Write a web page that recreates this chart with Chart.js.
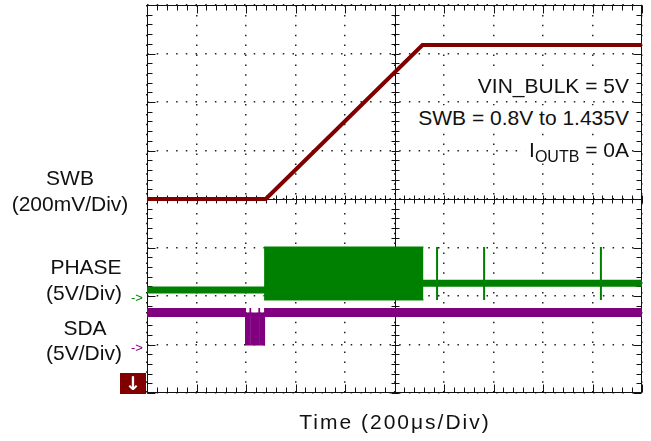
<!DOCTYPE html>
<html><head><meta charset="utf-8">
<script src="https://cdn.jsdelivr.net/npm/chart.js@4/dist/chart.umd.min.js"></script>
<style>
html,body{margin:0;padding:0;background:#fff;}
#wrap{position:relative;width:651px;height:441px;overflow:hidden;font-family:"Liberation Sans",Arial,sans-serif;color:#111;}
canvas{position:absolute;left:0;top:0;}
.lbl{position:absolute;font-size:21px;line-height:21px;white-space:nowrap;transform:translate(-50%,-50%);}
.rt{position:absolute;font-size:21px;line-height:23px;white-space:nowrap;transform:translate(-100%,-50%);background:#fff;padding-left:4px;}
.mk{position:absolute;font-size:13px;line-height:13px;white-space:nowrap;transform:translate(-50%,-50%);}
sub{font-size:16px;vertical-align:-5px;line-height:0;}
#gnd{position:absolute;left:120px;top:373px;width:26px;height:21px;background:#800000;color:#fff;font-family:"DejaVu Sans",sans-serif;font-weight:bold;font-size:19px;line-height:21px;text-align:center;}
</style></head>
<body>
<div id="wrap">
<canvas id="c" width="651" height="441"></canvas>
<div class="lbl" style="left:70px;top:177px;">SWB</div>
<div class="lbl" style="left:70px;top:203px;">(200mV/Div)</div>
<div class="lbl" style="left:86px;top:266px;">PHASE</div>
<div class="lbl" style="left:84px;top:292px;">(5V/Div)</div>
<div class="mk" style="left:137px;top:297px;color:#008000;">-&gt;</div>
<div class="lbl" style="left:85px;top:327px;">SDA</div>
<div class="lbl" style="left:84px;top:352px;">(5V/Div)</div>
<div class="mk" style="left:137px;top:347px;color:#800080;">-&gt;</div>
<div id="gnd">↓</div>
<div class="rt" style="left:629px;top:85px;">VIN_BULK = 5V</div>
<div class="rt" style="left:629px;top:117px;">SWB = 0.8V to 1.435V</div>
<div class="rt" style="left:629px;top:149px;">I<sub>OUTB</sub> = 0A</div>
<div class="lbl" style="left:395px;top:421px;letter-spacing:2px;">Time (200μs/Div)</div>
</div>
<script>
// ---- Data (time in µs, values in V) ----
const swbTime  = [0, 480, 1113, 2000];
const swbVolts = [0.8, 0.8, 1.435, 1.435];

const phaseTime  = [0, 473, 1117, 1172, 1172, 1172, 1172, 1362, 1362, 1362, 1362, 1834, 1834, 1834, 1834, 2000];
const phaseVolts = [0.62, 0.62, 1.31, 1.31, 5.05, -0.41, 1.31, 1.31, 5.05, -0.41, 1.31, 1.31, 5.05, -0.41, 1.31, 1.31];

const burstTime = [473, 1117];
const burstHigh = [5.05, 5.05];
const burstLow  = [-0.41, -0.41];

const sdaTime  = [0, 400, 400, 414, 414, 421, 421, 450, 450, 457, 457, 473, 473, 2000];
const sdaVolts = [3.3, 3.3, 0, 0, 3.3, 3.3, 0, 0, 3.3, 3.3, 0, 0, 3.3, 3.3];

// ---- Axis settings ----
const timePerDiv = 200, xDivs = 10, yDivs = 8, minorPerDiv = 5;
const swbRange = [0, 1.6];     // 200 mV/div
const phaseRange = [-10, 30];  // 5 V/div
const sdaRange = [-5, 35];     // 5 V/div

const pts = (xs, ys) => xs.map((x, i) => ({x, y: ys[i]}));

const framePlugin = {
  id: 'frame',
  beforeDatasetsDraw(chart) {
    const {ctx, chartArea: a, scales: {x, yGrid}} = chart;
    ctx.save();
    ctx.strokeStyle = '#111';
    ctx.lineWidth = 1;
    const xc = Math.round(x.getPixelForValue(timePerDiv * xDivs / 2)) + 0.5;
    const yc = Math.round(yGrid.getPixelForValue(yDivs / 2)) + 0.5;
    const L = Math.round(a.left) + 0.5, R = Math.round(a.right) - 0.5;
    const T = Math.round(a.top) + 0.5, B = Math.round(a.bottom) - 0.5;
    ctx.beginPath();
    ctx.rect(L, T, R - L, B - T);
    ctx.moveTo(xc, T); ctx.lineTo(xc, B);
    ctx.moveTo(L, yc); ctx.lineTo(R, yc);
    for (let i = 0; i <= xDivs * minorPerDiv; i++) {
      const px = Math.round(x.getPixelForValue(i * timePerDiv / minorPerDiv)) + 0.5;
      const len = (i % minorPerDiv === 0) ? 8 : 5;
      ctx.moveTo(px, T); ctx.lineTo(px, T + len);
      ctx.moveTo(px, B); ctx.lineTo(px, B - len);
      ctx.moveTo(px, yc - 4); ctx.lineTo(px, yc + 4);
    }
    for (let j = 0; j <= yDivs * minorPerDiv; j++) {
      const py = Math.round(yGrid.getPixelForValue(j / minorPerDiv)) + 0.5;
      const len = (j % minorPerDiv === 0) ? 8 : 5;
      ctx.moveTo(L, py); ctx.lineTo(L + len, py);
      ctx.moveTo(R, py); ctx.lineTo(R - len, py);
      ctx.moveTo(xc - 4, py); ctx.lineTo(xc + 4, py);
    }
    ctx.stroke();
    ctx.restore();
  }
};

new Chart(document.getElementById('c'), {
  type: 'line',
  data: {
    datasets: [
      {label: 'SWB', data: pts(swbTime, swbVolts), yAxisID: 'ySwb',
       borderColor: '#800000', borderWidth: 4, fill: false},
      {label: 'PHASE', data: pts(phaseTime, phaseVolts), yAxisID: 'yPhase',
       borderColor: '#008000', borderWidth: 7, fill: false,
       segment: {borderWidth: c => c.p0.parsed.x === c.p1.parsed.x ? 2 : 7}},
      {label: 'PHASE burst max', data: pts(burstTime, burstHigh), yAxisID: 'yPhase',
       borderColor: '#008000', backgroundColor: '#008000', borderWidth: 1, fill: '+1'},
      {label: 'PHASE burst min', data: pts(burstTime, burstLow), yAxisID: 'yPhase',
       borderColor: '#008000', borderWidth: 1, fill: false},
      {label: 'SDA', data: pts(sdaTime, sdaVolts), yAxisID: 'ySda',
       borderColor: '#800080', backgroundColor: '#800080', borderWidth: 9,
       fill: {value: 3.3},
       segment: {borderWidth: c => (c.p0.parsed.y === 3.3 && c.p1.parsed.y === 3.3) ? 9 : 2}}
    ]
  },
  options: {
    responsive: false,
    animation: false,
    layout: {padding: {left: 147, top: 5, right: 9, bottom: 48}},
    elements: {point: {radius: 0}, line: {tension: 0}},
    plugins: {legend: {display: false}, tooltip: {enabled: false}},
    scales: {
      x: {type: 'linear', min: 0, max: timePerDiv * xDivs,
          ticks: {display: false, stepSize: timePerDiv},
          grid: {color: '#222', lineWidth: 1.5, drawTicks: false},
          border: {display: false, dash: [1.5, 8.4]}},
      yGrid: {type: 'linear', position: 'left', min: 0, max: yDivs,
          ticks: {display: false, stepSize: 1},
          grid: {color: '#222', lineWidth: 1.5, drawTicks: false},
          border: {display: false, dash: [1.5, 8.2]}},
      ySwb: {display: false, min: swbRange[0], max: swbRange[1]},
      yPhase: {display: false, min: phaseRange[0], max: phaseRange[1]},
      ySda: {display: false, min: sdaRange[0], max: sdaRange[1]}
    }
  },
  plugins: [framePlugin]
});
</script>
</body></html>
